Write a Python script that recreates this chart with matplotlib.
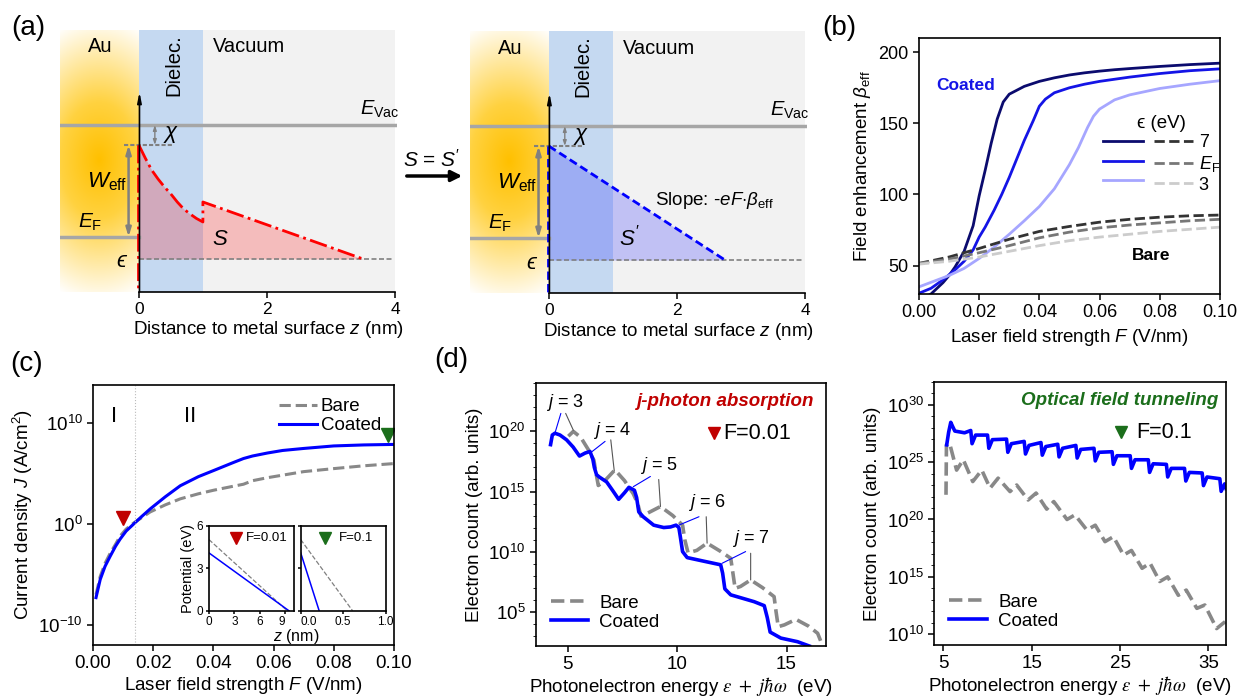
import numpy as np
import matplotlib
matplotlib.use("Agg")
import matplotlib.pyplot as plt
from matplotlib import ticker
from matplotlib.colors import LinearSegmentedColormap
from matplotlib.patches import FancyArrowPatch

plt.rcParams['font.family'] = ['Liberation Sans', 'DejaVu Sans']
plt.rcParams['mathtext.fontset'] = 'custom'
plt.rcParams['mathtext.rm'] = 'Liberation Sans'
plt.rcParams['mathtext.it'] = 'Liberation Sans:italic'
plt.rcParams['mathtext.bf'] = 'Liberation Sans:bold'
plt.rcParams['xtick.direction'] = 'out'
plt.rcParams['ytick.direction'] = 'out'
plt.rcParams['axes.linewidth'] = 1.2
plt.rcParams['xtick.major.width'] = 1.1
plt.rcParams['ytick.major.width'] = 1.1
plt.rcParams['xtick.major.size'] = 4
plt.rcParams['ytick.major.size'] = 4

# ---- (a) energy diagrams (arbitrary energy units) ----
z_left, z_right = -1.23, 4.03
e_top = 262
e_vac = 167
e_barrier = 147
e_fermi = 55
e_eps = 33
real_z = [0, 0.1, 0.2, 0.3, 0.4, 0.5, 0.6, 0.7, 0.8, 0.9, 1.0, 1.0, 3.5]
real_v = [147, 134, 122, 113, 105, 98, 90, 83, 78, 73.5, 70, 90, 33]
eff_z = [0, 2.75]
eff_v = [147, 33]

# ---- (b) field enhancement ----
Fb_c7 = [0.0, 0.004, 0.008, 0.01, 0.012, 0.015, 0.018, 0.02, 0.022, 0.024, 0.026, 0.028, 0.03,
         0.035, 0.04, 0.045, 0.05, 0.055, 0.06, 0.065, 0.07, 0.08, 0.09, 0.1]
beta_c7 = [25, 30, 38, 43, 49, 60, 78, 99, 117, 136, 153, 165, 170.5,
           176, 179.5, 182, 184, 185.5, 186.7, 187.7, 188.5, 190, 191.3, 192.3]
Fb_cF = [0.0, 0.004, 0.008, 0.01, 0.012, 0.015, 0.018, 0.02, 0.022, 0.025, 0.0275, 0.03, 0.035,
         0.038, 0.04, 0.042, 0.045, 0.05, 0.055, 0.06, 0.065, 0.07, 0.08, 0.09, 0.1]
beta_cF = [30.5, 34, 40, 43.5, 47, 53, 61, 70, 77, 89, 100, 112, 138,
           152, 162, 167, 171.5, 175, 177.5, 179.5, 181, 182.5, 185, 187, 188.3]
Fb_c3 = [0.0, 0.005, 0.01, 0.015, 0.02, 0.025, 0.03, 0.035, 0.04, 0.045, 0.05, 0.053, 0.056,
         0.058, 0.06, 0.065, 0.07, 0.08, 0.09, 0.1]
beta_c3 = [35, 39, 43, 48, 55, 63, 72, 81.5, 91.5, 104, 121, 133, 147,
           155, 160, 166.5, 170, 174.5, 177.5, 180]
Fb_bare = [0.0, 0.01, 0.02, 0.03, 0.04, 0.05, 0.06, 0.07, 0.08, 0.09, 0.1]
beta_b7 = [51.5, 56, 62, 68.5, 74, 77.5, 80.5, 82.5, 84, 85, 85.5]
beta_bF = [51.5, 54.5, 59, 64, 69.5, 73.5, 76.5, 78.5, 80, 81.5, 82.5]
beta_b3 = [51, 53, 56, 60, 64, 67.5, 70, 72, 74, 75.5, 77]

# ---- (c) current density (log10 J) ----
Fc = [0.001, 0.0024, 0.004, 0.0057, 0.0075, 0.009, 0.011, 0.0135, 0.016, 0.019, 0.024, 0.029,
      0.035, 0.04, 0.0466, 0.05, 0.053, 0.058, 0.063, 0.07, 0.08, 0.09, 0.1]
logJ_coated = [-7.3, -5.5, -4.2, -3.2, -2.2, -1.5, -0.7, 0, 0.7, 1.5, 2.7, 3.8,
               4.7, 5.3, 6.1, 6.5, 6.75, 7.05, 7.3, 7.5, 7.75, 7.85, 7.9]
logJ_bare = [-7.0, -5.2, -3.9, -2.9, -2.0, -1.2, -0.5, 0.1, 0.6, 1.2, 1.9, 2.5,
             3.0, 3.35, 3.75, 3.95, 4.3, 4.6, 4.85, 5.2, 5.5, 5.78, 6.0]
F_regime = 0.0139
mark_F = [0.00995, 0.098]
mark_logJ = [0.57, 8.83]
# inset potentials
z_low = [0, 9.4]
z_low_bare = [0, 9.2]
z_high = [0, 0.217]
z_high_bare = [0, 0.61]
pot_coated = [4.08, 0]
pot_bare = [5.02, 0]

# ---- (d) photoelectron spectra (log10 counts) ----
dl_coated_E = [4.22, 4.3, 4.42, 4.65, 4.95, 5.25, 5.54, 5.8, 6.02, 6.15, 6.22, 6.32, 6.45, 6.78,
               7.05, 7.33, 7.6, 7.8, 8.05, 8.15, 8.25, 8.45, 8.93, 9.39, 9.7, 9.95, 10.08, 10.15,
               10.25, 10.46, 11.22, 11.99, 12.08, 12.18, 12.45, 13.52, 13.98, 14.12, 14.25, 14.74,
               15.5, 16.04]
dl_coated_log = [18.9, 19.7, 19.85, 19.7, 19.3, 18.7, 17.95, 18.2, 18.33, 17.7, 17.0, 16.4, 16.2, 15.8,
                 15.1, 14.35, 14.9, 15.35, 15.1, 14.5, 13.3, 12.9, 12.2, 12.0, 12.05, 12.2, 12.0, 11.2,
                 10.0, 9.5, 9.2, 8.9, 8.2, 6.9, 6.4, 5.83, 5.5, 4.5, 3.3, 2.8,
                 2.5, 2.14]
dl_bare_E = [5.03, 5.26, 5.6, 5.94, 6.2, 6.3, 6.4, 6.7, 7.16, 7.6, 8.0, 8.2, 8.35, 8.6, 9.24,
             9.8, 10.25, 10.35, 10.5, 10.9, 11.37, 12.0, 12.45, 12.55, 12.65, 12.9, 13.36, 13.9,
             14.43, 14.52, 14.62, 14.9, 15.43, 16.0, 16.42, 16.55, 16.65]
dl_bare_log = [19.6, 20.0, 19.5, 18.5, 17.6, 16.5, 15.5, 15.9, 16.8, 15.9, 14.8, 14.0, 12.95, 13.15, 13.75,
               13.0, 12.2, 11.0, 9.9, 10.1, 10.7, 10.0, 9.44, 8.2, 6.94, 7.1, 7.64, 7.0,
               6.25, 5.0, 3.75, 3.9, 4.36, 3.8, 3.2, 2.6, 2.1]
j_orders = [3, 4, 5, 6, 7]
j_text = [(4.88, 22.4), (7.02, 20.1), (9.16, 17.2), (11.38, 14.1), (13.36, 11.05)]
j_blue_from = [(4.69, 21.5), (6.71, 19.17), (8.78, 16.25), (11.0, 12.9), (13.13, 10.0)]
j_blue_to = [(4.42, 19.86), (6.1, 18.3), (8.0, 15.4), (10.08, 12.2), (12.06, 9.03)]
j_gray_from = [(4.91, 21.5), (6.97, 19.3), (9.16, 16.0), (11.33, 12.9), (13.36, 9.86)]
j_gray_to = [(5.26, 20.1), (7.13, 16.7), (9.24, 13.75), (11.37, 10.7), (13.36, 7.64)]

dr_coated_E = [5.38, 5.6, 5.84, 6.05, 6.3, 7.4,
               8.1, 8.25, 8.65, 10.0, 10.15, 10.55, 12.15, 12.3, 12.7, 14.15, 14.3, 14.7,
               16.05, 16.2, 16.6, 17.95, 18.1, 18.5, 20.0, 20.15, 20.55, 22.05, 22.2, 22.6,
               24.1, 24.25, 24.65, 26.15, 26.3, 26.7, 28.2, 28.35, 28.75, 30.25, 30.4, 30.8,
               32.3, 32.45, 32.85, 34.3, 34.45, 34.85, 36.3, 36.45, 36.85, 37.0]
dr_coated_log = [26.5, 27.6, 28.46, 28.1, 27.7, 27.55,
                 27.75, 26.6, 27.35, 27.35, 26.2, 26.95, 27.0, 25.85, 26.6, 26.8, 25.7, 26.45,
                 26.7, 25.6, 26.35, 26.55, 25.45, 26.2, 26.45, 25.35, 26.1, 26.2, 25.1, 25.85,
                 25.9, 24.8, 25.55, 25.55, 24.45, 25.2, 25.2, 24.1, 24.85, 24.8, 23.7, 24.45,
                 24.45, 23.35, 24.1, 24.05, 22.95, 23.7, 23.55, 22.45, 23.1, 22.7]
dr_bare_E = [5.3, 5.35, 5.7, 6.5, 7.26, 8.33, 9.35, 10.29, 11.2, 12.55, 13.3, 14.6, 15.5, 16.7,
             17.5, 19.0, 19.9, 21.24, 22.2, 23.3, 24.25, 25.4, 26.3, 27.5, 28.4, 29.5, 30.4,
             31.6, 32.5, 33.7, 34.6, 35.94, 36.9]
dr_bare_log = [22.15, 26.5, 26.66, 24.3, 25.2, 23.3, 24.3, 22.73, 23.6, 22.43, 23.0, 21.7, 22.3, 20.9,
               21.56, 20.0, 20.4, 19.09, 19.5, 18.07, 18.5, 16.9, 17.3, 15.75, 16.2, 14.6, 15.0,
               13.4, 13.85, 12.26, 12.55, 10.5, 11.1]

red = '#c00000'
green = '#1b6e1b'
gray_line = '#888888'
energy_label = r'Photonelectron energy $\epsilon\ +\ j\hbar\omega$  (eV)'


def pow10(vals):
    return [10.0 ** v for v in vals]


fig = plt.figure(figsize=(12.4, 6.96), dpi=100)

gold_cmap = LinearSegmentedColormap.from_list(
    'gold', [(0, '#ffc000'), (0.4, '#ffd240'), (0.75, '#ffecb0'), (1.0, '#ffffff')])


def draw_diagram(ax, z, v, color, ls, alpha):
    gx = np.linspace(z_left, 0, 200)
    gy = np.linspace(0, e_top, 300)
    X, Y = np.meshgrid(gx, gy)
    r = np.sqrt(((X + 0.62) / 1.5) ** 2 + ((Y - 132) / 145) ** 2)
    ax.imshow(gold_cmap(np.clip(r, 0, 1)), extent=(z_left, 0, 0, e_top), origin='lower',
              aspect='auto', zorder=0)
    ax.axvspan(0, 1, color='#c5d9f1', lw=0, zorder=0)
    ax.axvspan(1, 4, color='#f2f2f2', lw=0, zorder=0)
    ax.set_xlim(z_left, z_right)
    ax.set_ylim(0, e_top)

    ax.plot([z_left, z_right], [e_vac, e_vac], color='#a6a6a6', lw=2.5, zorder=2)
    ax.plot([z_left, 0], [e_fermi, e_fermi], color='#a6a6a6', lw=2.5, zorder=2)
    ax.plot([0, 3.95], [e_eps, e_eps], color='#808080', lw=1.2, ls=(0, (3, 1.5)), zorder=2)
    ax.plot([-0.23, 0.55], [e_barrier, e_barrier], color='#808080', lw=1.5, ls=(0, (2, 1)), zorder=2)

    ax.fill_between(z, v, e_eps, color=color, alpha=alpha, lw=0, zorder=1)
    ax.plot(z, v, color=color, ls=ls, lw=2, zorder=3)
    ax.plot([-0.015, -0.015], [v[0], 0], color=color, ls=ls, lw=2, zorder=3)

    ax.annotate('', xy=(0.01, 200), xytext=(0.01, 0),
                arrowprops=dict(arrowstyle='-|>,head_width=0.12,head_length=0.6', color='k',
                                lw=1.2, shrinkA=0, shrinkB=0), zorder=4)
    ax.annotate('', xy=(0.25, e_barrier), xytext=(0.25, e_vac),
                arrowprops=dict(arrowstyle='<|-|>,head_width=0.1,head_length=0.3', color='#808080',
                                lw=1, shrinkA=0, shrinkB=0))
    ax.annotate('', xy=(-0.16, e_fermi), xytext=(-0.16, e_barrier),
                arrowprops=dict(arrowstyle='<|-|>,head_width=0.15,head_length=0.5', color='#808080',
                                lw=1.8, shrinkA=0, shrinkB=0))

    ax.text(-0.6, 245, 'Au', ha='center', va='center', fontsize=14.5)
    ax.text(0.54, 227, 'Dielec.', ha='center', va='center', rotation=90, fontsize=14.5)
    ax.text(1.15, 245, 'Vacuum', ha='left', va='center', fontsize=14.5)
    ax.text(3.45, 183, r'$E_{\mathrm{Vac}}$', ha='left', va='center', fontsize=14.5)
    ax.text(0.38, 157, r'$\chi$', ha='left', va='center', fontsize=16)
    ax.text(-0.5, 110, r'$W_{\mathrm{eff}}$', ha='center', va='center', fontsize=16)
    ax.text(-0.95, 70, r'$E_{\mathrm{F}}$', ha='left', va='center', fontsize=15)
    ax.text(-0.28, 30, '\u03f5', ha='center', va='center', fontsize=16, style='italic')

    for s in ['left', 'top', 'right']:
        ax.spines[s].set_visible(False)
    ax.spines['bottom'].set_bounds(0, 4)
    ax.set_yticks([])
    ax.set_xticks([0, 2, 4])
    ax.tick_params(labelsize=12.5)
    ax.set_xlabel(r'Distance to metal surface $z$ (nm)', fontsize=13.5)
    ax.xaxis.set_label_coords(0.617, -0.105)


ax_a1 = fig.add_axes([0.0484, 0.5805, 0.2718, 0.3764])
draw_diagram(ax_a1, real_z, real_v, 'red', '-.', 0.22)
ax_a1.text(1.27, 52, r'$S$', ha='center', va='center', fontsize=16)

ax_a2 = fig.add_axes([0.379, 0.579, 0.2718, 0.3764])
draw_diagram(ax_a2, eff_z, eff_v, 'blue', (0, (3, 1.5)), 0.2)
ax_a2.text(1.26, 55, r"$S'$", ha='center', va='center', fontsize=16)
ax_a2.text(1.66, 93, r'Slope: -$eF$$\cdot$$\beta_{\mathrm{eff}}$', ha='left', va='center', fontsize=13.5)

fig.text(432 / 1240, 1 - 160 / 696, r"$S$ = $S'$", ha='center', va='center', fontsize=15)
fig.add_artist(FancyArrowPatch((404 / 1240, 1 - 176 / 696), (465 / 1240, 1 - 176 / 696),
                               transform=fig.transFigure, arrowstyle='-|>', mutation_scale=16,
                               lw=2.5, color='k'))

# ---- (b) ----
ax_b = fig.add_axes([0.7411, 0.5776, 0.2427, 0.3678])
lc7, = ax_b.plot(Fb_c7, beta_c7, color='#0b0b6e', lw=2)
lcF, = ax_b.plot(Fb_cF, beta_cF, color='#1414e6', lw=2)
lc3, = ax_b.plot(Fb_c3, beta_c3, color='#a6a6ff', lw=2)
lb7, = ax_b.plot(Fb_bare, beta_b7, color='#333333', lw=2, ls='--')
lbF, = ax_b.plot(Fb_bare, beta_bF, color='#777777', lw=2, ls='--')
lb3, = ax_b.plot(Fb_bare, beta_b3, color='#cccccc', lw=2, ls='--')
ax_b.set_xlim(0, 0.1)
ax_b.set_ylim(30, 210)
ax_b.set_xticks([0, 0.02, 0.04, 0.06, 0.08, 0.1])
ax_b.xaxis.set_major_formatter(ticker.FormatStrFormatter('%.2f'))
ax_b.set_yticks([50, 100, 150, 200])
ax_b.tick_params(labelsize=13)
ax_b.set_xlabel(r'Laser field strength $F$ (V/nm)', fontsize=13.5)
ax_b.set_ylabel(r'Field enhancement $\beta_{\mathrm{eff}}$', fontsize=13.5)
ax_b.text(0.0155, 176.6, 'Coated', color='#1414e6', fontweight='bold', ha='center', va='center', fontsize=12.5)
ax_b.text(0.0772, 56.8, 'Bare', color='k', fontweight='bold', ha='center', va='center', fontsize=12.5)
leg_b = ax_b.legend([lc7, lcF, lc3, lb7, lbF, lb3], ['', '', '', '7', r'$E_{\mathrm{F}}$', '3'],
                    ncol=2, frameon=False, title='\u03f5 (eV)', title_fontsize=13.5, fontsize=13,
                    loc='upper left', bbox_to_anchor=(0.57, 0.75), handlelength=2.2,
                    handletextpad=0.3, columnspacing=0.3, labelspacing=0.15, borderpad=0.2)

# ---- (c) ----
ax_c = fig.add_axes([0.075, 0.0733, 0.2427, 0.3736])
ax_c.plot(Fc, pow10(logJ_bare), color=gray_line, lw=2.2, ls='--', label='Bare')
ax_c.plot(Fc, pow10(logJ_coated), color='blue', lw=2.2, label='Coated')
ax_c.axvline(F_regime, color='#bbbbbb', lw=0.8, ls=':')
ax_c.plot(mark_F[0], 10.0 ** mark_logJ[0], marker='v', color=red, ms=10, ls='none')
ax_c.plot(mark_F[1], 10.0 ** mark_logJ[1], marker='v', color=green, ms=10, ls='none')
ax_c.set_yscale('log')
ax_c.set_xlim(0, 0.1)
ax_c.set_ylim(1e-12, 10.0 ** 13.8)
ax_c.set_yticks([1e-10, 1.0, 1e10])
ax_c.yaxis.set_minor_locator(ticker.NullLocator())
ax_c.set_xticks([0, 0.02, 0.04, 0.06, 0.08, 0.1])
ax_c.xaxis.set_major_formatter(ticker.FormatStrFormatter('%.2f'))
ax_c.tick_params(labelsize=13.5)
ax_c.text(0.0071, 10.0 ** 10.67, 'I', ha='center', va='center', fontsize=16)
ax_c.text(0.0323, 10.0 ** 10.67, 'II', ha='center', va='center', fontsize=16)
ax_c.set_xlabel(r'Laser field strength $F$ (V/nm)', fontsize=13.5, labelpad=2)
ax_c.set_ylabel(r'Current density $J$ (A/cm$^2$)', fontsize=13.5, labelpad=2)
ax_c.legend(loc='upper right', frameon=False, fontsize=13.5, handlelength=2.0, handletextpad=0.2,
            labelspacing=0.1, borderaxespad=0.3)

ins1 = fig.add_axes([0.1685, 0.1226, 0.0685, 0.1221])
ins1.plot(z_low_bare, pot_bare, color='#808080', lw=0.9, ls='--')
ins1.plot(z_low, pot_coated, color='blue', lw=1.1)
ins1.set_xlim(0, 10)
ins1.set_ylim(0, 6)
ins1.set_xticks([0, 3, 6, 9])
ins1.set_yticks([0, 3, 6])
ins1.tick_params(labelsize=8.5, length=2.5, pad=1.5)
ins1.get_xticklabels()[-1].set_horizontalalignment('right')
ins1.set_ylabel('Potential (eV)', fontsize=10.5, labelpad=1)
ins1.plot(3.16, 5.1, marker='v', color=red, ms=8, ls='none')
ins1.text(4.4, 5.1, 'F=0.01', fontsize=9.5, va='center', ha='left')

ins2 = fig.add_axes([0.2425, 0.1226, 0.0685, 0.1221])
ins2.plot(z_high_bare, pot_bare, color='#808080', lw=0.9, ls='--')
ins2.plot(z_high, pot_coated, color='blue', lw=1.1)
ins2.set_xlim(0, 1)
ins2.set_ylim(0, 6)
ins2.set_xticks([0, 0.5, 1.0])
ins2.set_xticklabels(['0.0', '0.5', '1.0'])
ins2.get_xticklabels()[0].set_horizontalalignment('left')
ins2.set_yticks([0, 3, 6])
ins2.set_yticklabels([])
ins2.tick_params(labelsize=8.5, length=2.5, pad=1.5)
ins2.plot(0.29, 5.1, marker='v', color=green, ms=8, ls='none')
ins2.text(0.45, 5.1, 'F=0.1', fontsize=9.5, va='center', ha='left')
fig.text(296 / 1240, 1 - 637 / 696, r'$z$ (nm)', ha='center', va='center', fontsize=11.5)

# ---- (d) left ----
ax_d1 = fig.add_axes([0.432, 0.0718, 0.2341, 0.3774])
ax_d1.plot(dl_bare_E, pow10(dl_bare_log), color=gray_line, lw=2.6, ls='--', label='Bare')
ax_d1.plot(dl_coated_E, pow10(dl_coated_log), color='blue', lw=2.6, label='Coated')
for j, t, bf, bt, gf, gt in zip(j_orders, j_text, j_blue_from, j_blue_to, j_gray_from, j_gray_to):
    ax_d1.text(t[0], 10.0 ** t[1], r'$j$ = %d' % j, ha='center', va='center', fontsize=13)
    ax_d1.annotate('', xy=(bt[0], 10.0 ** bt[1]), xytext=(bf[0], 10.0 ** bf[1]),
                   arrowprops=dict(arrowstyle='-', color='blue', lw=0.8, shrinkA=0, shrinkB=0))
    ax_d1.annotate('', xy=(gt[0], 10.0 ** gt[1]), xytext=(gf[0], 10.0 ** gf[1]),
                   arrowprops=dict(arrowstyle='-', color='#555555', lw=0.8, shrinkA=0, shrinkB=0))
ax_d1.set_yscale('log')
ax_d1.set_xlim(3.54, 16.8)
ax_d1.set_ylim(10.0 ** 2.14, 1e24)
ax_d1.set_yticks([1e5, 1e10, 1e15, 1e20])
ax_d1.yaxis.set_minor_locator(ticker.LogLocator(base=10.0, subs=(1.0,), numticks=40))
ax_d1.yaxis.set_minor_formatter(ticker.NullFormatter())
ax_d1.tick_params(which='minor', length=2.5)
ax_d1.set_xticks([5, 10, 15])
ax_d1.tick_params(labelsize=13.5)
ax_d1.text(12.2, 10.0 ** 22.5, 'j-photon absorption', color=red, fontweight='bold', style='italic',
           ha='center', va='center', fontsize=13.5)
ax_d1.plot(11.68, 10.0 ** 19.86, marker='v', color=red, ms=8, ls='none')
ax_d1.text(12.1, 10.0 ** 19.86, 'F=0.01', ha='left', va='center', fontsize=15.5)
ax_d1.legend(loc='lower left', frameon=False, fontsize=13.5, handlelength=2.0, handletextpad=0.6,
             labelspacing=0.1, borderaxespad=0.4)
ax_d1.set_ylabel('Electron count (arb. units)', fontsize=13.5)
ax_d1.set_xlabel(energy_label, fontsize=13.5, math_fontfamily='stix', labelpad=1)

# ---- (d) right ----
ax_d2 = fig.add_axes([0.7535, 0.0733, 0.235, 0.3783])
ax_d2.plot(dr_bare_E, pow10(dr_bare_log), color=gray_line, lw=2.6, ls='--', label='Bare')
ax_d2.plot(dr_coated_E, pow10(dr_coated_log), color='blue', lw=2.6, label='Coated')
ax_d2.set_yscale('log')
ax_d2.set_xlim(3.98, 36.97)
ax_d2.set_ylim(10.0 ** 9.07, 1e32)
ax_d2.set_yticks([1e10, 1e15, 1e20, 1e25, 1e30])
ax_d2.yaxis.set_minor_locator(ticker.LogLocator(base=10.0, subs=(1.0,), numticks=40))
ax_d2.yaxis.set_minor_formatter(ticker.NullFormatter())
ax_d2.tick_params(which='minor', length=2.5)
ax_d2.set_xticks([5, 15, 25, 35])
ax_d2.tick_params(labelsize=13.5)
ax_d2.text(25, 10.0 ** 30.35, 'Optical field tunneling', color=green, fontweight='bold', style='italic',
           ha='center', va='center', fontsize=13.5)
ax_d2.plot(25.1, 10.0 ** 27.6, marker='v', color=green, ms=8, ls='none')
ax_d2.text(26.8, 10.0 ** 27.6, 'F=0.1', ha='left', va='center', fontsize=15.5)
ax_d2.legend(loc='lower left', frameon=False, fontsize=13.5, handlelength=2.0, handletextpad=0.6,
             labelspacing=0.1, borderaxespad=0.4)
ax_d2.set_ylabel('Electron count (arb. units)', fontsize=13.5)
ax_d2.set_xlabel(energy_label, fontsize=13.5, math_fontfamily='stix', labelpad=1)

# panel letters
fig.text(28 / 1240, 1 - 28 / 696, '(a)', fontsize=20, ha='center', va='center')
fig.text(839 / 1240, 1 - 28 / 696, '(b)', fontsize=20, ha='center', va='center')
fig.text(27 / 1240, 1 - 364 / 696, '(c)', fontsize=20, ha='center', va='center')
fig.text(451 / 1240, 1 - 360 / 696, '(d)', fontsize=20, ha='center', va='center')

fig.savefig('out.png', dpi=100)
